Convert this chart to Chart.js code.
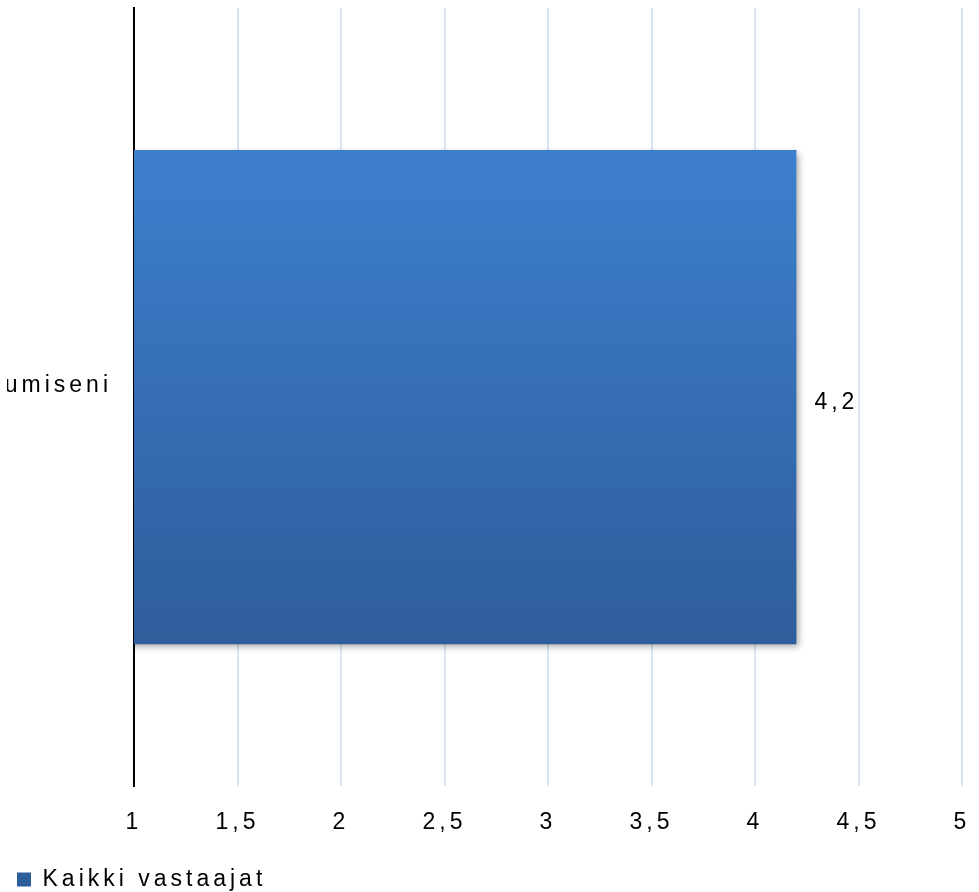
<!DOCTYPE html>
<html>
<head>
<meta charset="utf-8">
<script src="https://cdn.jsdelivr.net/npm/chart.js@4/dist/chart.umd.min.js"></script>
<style>
  html, body { margin: 0; padding: 0; background: #ffffff; }
  #wrap { width: 979px; height: 892px; position: relative; }
</style>
</head>
<body>
<div id="wrap"><canvas id="c" width="979" height="892"></canvas></div>
<script>
const categories = ["umiseni"];
const seriesName = "Kaikki vastaajat";
const seriesValues = [4.2];
const xTicks = [1, 1.5, 2, 2.5, 3, 3.5, 4, 4.5, 5];

const FONT = "'Liberation Sans', Arial, sans-serif";
const FONT_SIZE = 23;
const SPACING = '4px';
const BAR_FRACTION = 0.635;

function fmt(v) { return String(v).replace('.', ','); }

const spacingPlugin = {
  id: 'spacing',
  beforeInit(chart) { chart.ctx.letterSpacing = SPACING; },
  beforeUpdate(chart) { chart.ctx.letterSpacing = SPACING; },
  beforeDraw(chart) { chart.ctx.letterSpacing = SPACING; }
};

const shadowPlugin = {
  id: 'barShadow',
  beforeDatasetDraw(chart) {
    const ctx = chart.ctx;
    ctx.save();
    ctx.shadowColor = 'rgba(0,0,0,0.35)';
    ctx.shadowBlur = 7;
    ctx.shadowOffsetX = 3;
    ctx.shadowOffsetY = 3;
  },
  afterDatasetDraw(chart) {
    chart.ctx.restore();
    chart.ctx.letterSpacing = SPACING;
  }
};

const labelPlugin = {
  id: 'valueLabels',
  afterDatasetsDraw(chart) {
    const ctx = chart.ctx;
    ctx.save();
    ctx.letterSpacing = SPACING;
    ctx.font = FONT_SIZE + 'px ' + FONT;
    ctx.fillStyle = '#000000';
    ctx.textAlign = 'left';
    ctx.textBaseline = 'middle';
    chart.getDatasetMeta(0).data.forEach((bar, i) => {
      ctx.fillText(fmt(seriesValues[i]), bar.x + 18, bar.y + 5);
    });
    ctx.restore();
  }
};

function barGradient(context) {
  const chart = context.chart;
  const area = chart.chartArea;
  if (!area) return '#3570b8';
  const center = (area.top + area.bottom) / 2;
  const h = (area.bottom - area.top) * BAR_FRACTION;
  const g = chart.ctx.createLinearGradient(0, center - h / 2, 0, center + h / 2);
  g.addColorStop(0, '#3d7fcd');
  g.addColorStop(1, '#2e5d9b');
  return g;
}

new Chart(document.getElementById('c'), {
  type: 'bar',
  data: {
    labels: categories,
    datasets: [{
      label: seriesName,
      data: seriesValues,
      backgroundColor: barGradient,
      borderWidth: 0,
      barPercentage: BAR_FRACTION,
      categoryPercentage: 1.0
    }]
  },
  options: {
    indexAxis: 'y',
    responsive: false,
    animation: false,
    devicePixelRatio: 1,
    layout: { padding: { top: 8, right: 17, left: 7, bottom: -9 } },
    scales: {
      x: {
        type: 'linear',
        min: 1,
        max: 5,
        afterBuildTicks(scale) { scale.ticks = xTicks.map(v => ({ value: v })); },
        afterFit(scale) { scale.paddingLeft = 0; scale.paddingRight = 0; },
        grid: { color: '#dbe5f1', lineWidth: 2, drawTicks: false },
        border: { display: false },
        ticks: {
          color: '#000000',
          font: { family: FONT, size: FONT_SIZE },
          padding: 22,
          maxRotation: 0,
          callback: (v) => fmt(v)
        }
      },
      y: {
        grid: { display: false, drawTicks: false },
        border: { display: true, color: '#000000', width: 2 },
        afterFit(scale) { scale.width = 127; scale.paddingTop = 0; scale.paddingBottom = 0; },
        ticks: {
          color: '#000000',
          font: { family: FONT, size: FONT_SIZE },
          padding: 22,
          labelOffset: -12
        }
      }
    },
    plugins: {
      legend: {
        position: 'bottom',
        align: 'start',
        labels: {
          boxWidth: 14,
          boxHeight: 14,
          padding: 10,
          color: '#000000',
          font: { family: FONT, size: FONT_SIZE }
        }
      },
      tooltip: { enabled: false }
    }
  },
  plugins: [spacingPlugin, shadowPlugin, labelPlugin]
});
</script>
</body>
</html>
